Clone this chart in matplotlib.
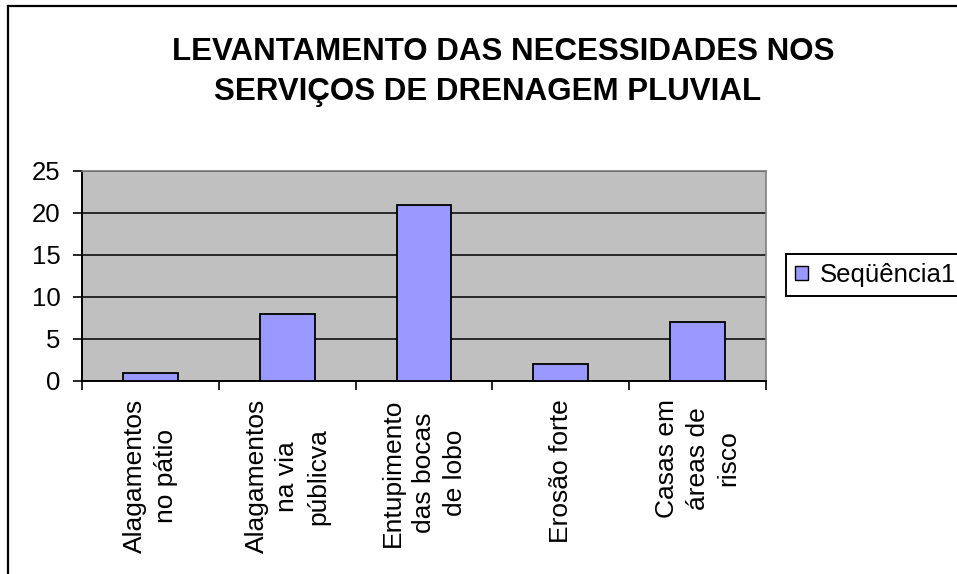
import matplotlib
matplotlib.use('Agg')
import matplotlib.pyplot as plt
from matplotlib.lines import Line2D
from matplotlib.patches import Patch
import numpy as np

plt.rcParams['font.family'] = ['Liberation Sans', 'DejaVu Sans']

# data
categories = ['Alagamentos\nno pátio', 'Alagamentos\nna via\npúblicva',
              'Entupimento\ndas bocas\nde lobo', 'Erosão forte',
              'Casas em\náreas de\nrisco']
values = [1, 8, 21, 2, 7]
series_name = 'Seqüência1'
title_lines = ['LEVANTAMENTO DAS NECESSIDADES NOS', 'SERVIÇOS DE DRENAGEM PLUVIAL']
yticks = [0, 5, 10, 15, 20, 25]

W, H = 957, 574
fig = plt.figure(figsize=(W/100, H/100), dpi=100)
fig.patch.set_facecolor('white')

# outer chart border (only left/top visible in reference)
fig.add_artist(Line2D([8/W, 8/W], [0, 1 - 6/H], color='black', lw=1.6))
fig.add_artist(Line2D([8/W, 1], [1 - 6/H, 1 - 6/H], color='black', lw=1.6))

ax = fig.add_axes([82/W, 1 - 381/H, (766 - 82)/W, (381 - 171)/H])
ax.set_facecolor('#C0C0C0')

x = np.arange(len(values))
ax.bar(x, values, width=0.4, color='#9999FF', edgecolor='black', linewidth=1.3, zorder=3)

ax.set_xlim(-0.5, len(values) - 0.5)
ax.set_ylim(0, 25)
ax.set_yticks(yticks)
ax.yaxis.grid(True, color='black', lw=1.1, zorder=1)
ax.set_axisbelow(True)
ax.tick_params(axis='y', labelsize=18.5, length=6.5, width=1.2, direction='out', pad=9)

ax.set_xticks(x)
ax.set_xticklabels(categories, rotation=90, fontsize=19, linespacing=1.35,
                   multialignment='center', va='top', ha='center')
ax.tick_params(axis='x', which='major', length=0, pad=13)
ax.set_xticks(np.arange(len(values) + 1) - 0.5, minor=True)
ax.tick_params(axis='x', which='minor', length=6.5, width=1.2, direction='out')

for s in ['top', 'right']:
    ax.spines[s].set_color('#808080')
    ax.spines[s].set_linewidth(1.2)
for s in ['left', 'bottom']:
    ax.spines[s].set_color('black')
    ax.spines[s].set_linewidth(1.4)

# title, two lines (Excel centres them slightly differently)
fig.text(503/W, 1 - 60/H, title_lines[0], ha='center', va='baseline',
         fontsize=22.5, fontweight='bold')
fig.text(488/W, 1 - 100/H, title_lines[1], ha='center', va='baseline',
         fontsize=22.5, fontweight='bold')

handle = Patch(facecolor='#9999FF', edgecolor='black', linewidth=1.0)
leg = fig.legend([handle], [series_name], loc='upper left',
                 bbox_to_anchor=(786/W, 1 - 254/H), fontsize=18.5,
                 fancybox=False, edgecolor='black', framealpha=1,
                 borderaxespad=0, handlelength=0.5, handleheight=0.5,
                 handletextpad=0.45, borderpad=0.35)
leg.get_frame().set_linewidth(1.4)

fig.savefig('out.png', dpi=100, facecolor='white')
